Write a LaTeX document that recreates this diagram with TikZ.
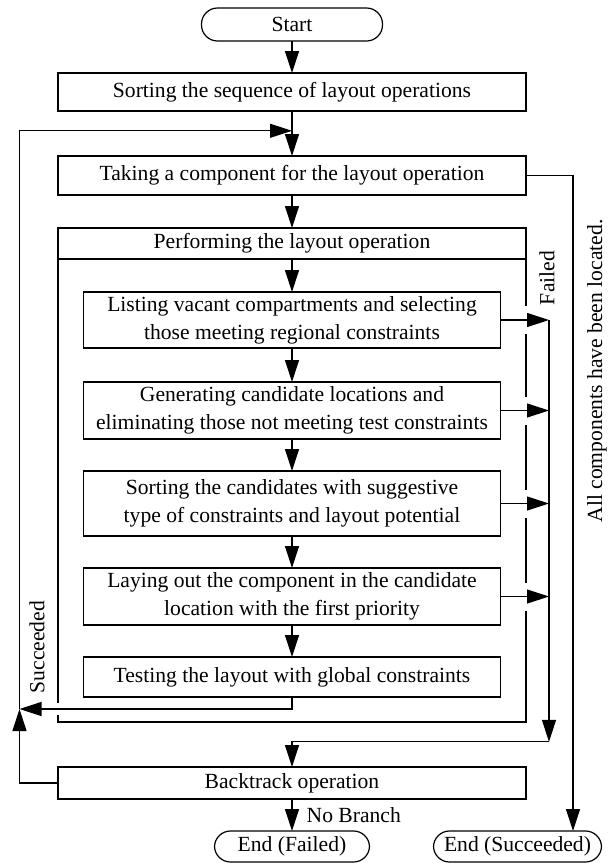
\documentclass[tikz,border=0pt]{standalone}
\usepackage{fontspec}
\setmainfont{Liberation Serif}
\usetikzlibrary{arrows.meta, positioning, calc}

\begin{document}
\begin{tikzpicture}[
    >={Triangle[length=11pt, width=7pt]},
    node distance=16pt,
    every node/.style={font=\fontsize{10.8}{14}\selectfont, outer sep=0pt},
    line width=0.6pt,
    block/.style={rectangle, draw, minimum width=234pt, align=center, inner ysep=1pt},
    subblock/.style={block, minimum width=208.5pt},
    terminal/.style={rectangle, rounded corners=8pt, draw, minimum height=16.5pt, inner ysep=0pt},
    arrow/.style={->},
    gapcut/.style={draw=white, line width=2pt},
    sidelabel/.style={rotate=90, inner sep=0pt}
]
\useasboundingbox (0,0) rectangle (308pt,-431.5pt);

% Main column
\node[terminal, minimum width=90.5pt] (start) at (146pt,-12.25pt) {Start};
\node[block, minimum height=19pt, below=of start] (sortseq) {Sorting the sequence of layout operations};
\node[block, minimum height=19.5pt, below=22.5pt of sortseq] (take) {Taking a component for the layout operation};
\node[block, minimum height=15.5pt, below=16.5pt of take] (perform) {Performing the layout operation};

% Steps of the layout operation
\node[subblock, minimum height=28pt, below=16.5pt of perform] (list) {Listing vacant compartments and selecting\\those meeting regional constraints};
\node[subblock, minimum height=28.5pt, below=17pt of list] (gen) {Generating candidate locations and\\eliminating those not meeting test constraints};
\node[subblock, minimum height=32.5pt, below=of gen] (cand) {Sorting the candidates with suggestive\\type of constraints and layout potential};
\node[subblock, minimum height=28.5pt, below=of cand] (lay) {Laying out the component in the candidate\\location with the first priority};
\node[subblock, minimum height=20pt, below=of lay] (test) {Testing the layout with global constraints};

% Helper points
\coordinate (outbot) at ($(test.south)+(0,-12.5pt)$);
\coordinate (succ) at ($(test.south)+(0,-6pt)$);
\coordinate (loop) at ($(sortseq.south)!0.44!(take.north)$);
\coordinate (leftrail) at ($(perform.west)+(-19.25pt,0)$);
\coordinate (failrail) at ($(list.east)+(24.25pt,0)$);
\coordinate (okrail) at ($(take.east)+(23.5pt,0)$);

% Backtrack and ends
\node[block, minimum height=16pt, below=22.5pt of outbot] (back) {Backtrack operation};
\coordinate (failbot) at ($(outbot)!0.44!(back.north)$);
\node[terminal, minimum width=77.5pt, minimum height=15.5pt, below=of back] (endf) {End (Failed)};
\node[terminal, minimum width=84pt, minimum height=15.5pt, right=32pt of endf] (ends) {End (Succeeded)};

% Outer frame of the layout operation
\draw (perform.north west) rectangle (perform.east |- outbot);
\foreach \n in {list,gen,cand,lay}
  \draw[gapcut] ($(\n.east -| perform.east)+(0,7pt)$) -- ++(0,-14pt);
\draw[gapcut] ($(succ -| perform.west)+(0,3pt)$) -- ++(0,-6pt);

% Main flow
\draw[arrow] (start) -- (sortseq);
\draw[arrow] (sortseq) -- (take);
\draw[arrow] (take) -- (perform);
\draw[arrow] (perform) -- (list);
\draw[arrow] (list) -- (gen);
\draw[arrow] (gen) -- (cand);
\draw[arrow] (cand) -- (lay);
\draw[arrow] (lay) -- (test);
\draw[arrow] (back) -- node[right=4pt]{No Branch} (endf);

% Failed branches
\foreach \n in {list,gen,cand,lay}
  \draw[arrow] (\n.east) -- (\n.east -| failrail);
\draw[arrow] (list.east -| failrail) -- (failbot -| failrail);
\draw[arrow] (failbot -| failrail) -- (failbot) -- (back);
\node[sidelabel] (failed) at ($(list.east -| failrail)+(-1pt,21pt)$) {Failed};

% Succeeded loop
\draw[arrow] (test.south) -- (succ) -- (succ -| leftrail);
\draw[arrow] (back.west) -| (succ -| leftrail);
\draw[arrow] (succ -| leftrail) -- (loop -| leftrail) -- (loop);
\node[sidelabel] (succeeded) at ($(succ -| leftrail)+(8.75pt,31pt)$) {Succeeded};

% All components placed
\draw[arrow] (take.east) -- (okrail) -- (ends.north -| okrail);
\node[sidelabel] (alldone) at (298.5pt,-185.5pt) {All components have been located.};

\end{tikzpicture}
\end{document}
